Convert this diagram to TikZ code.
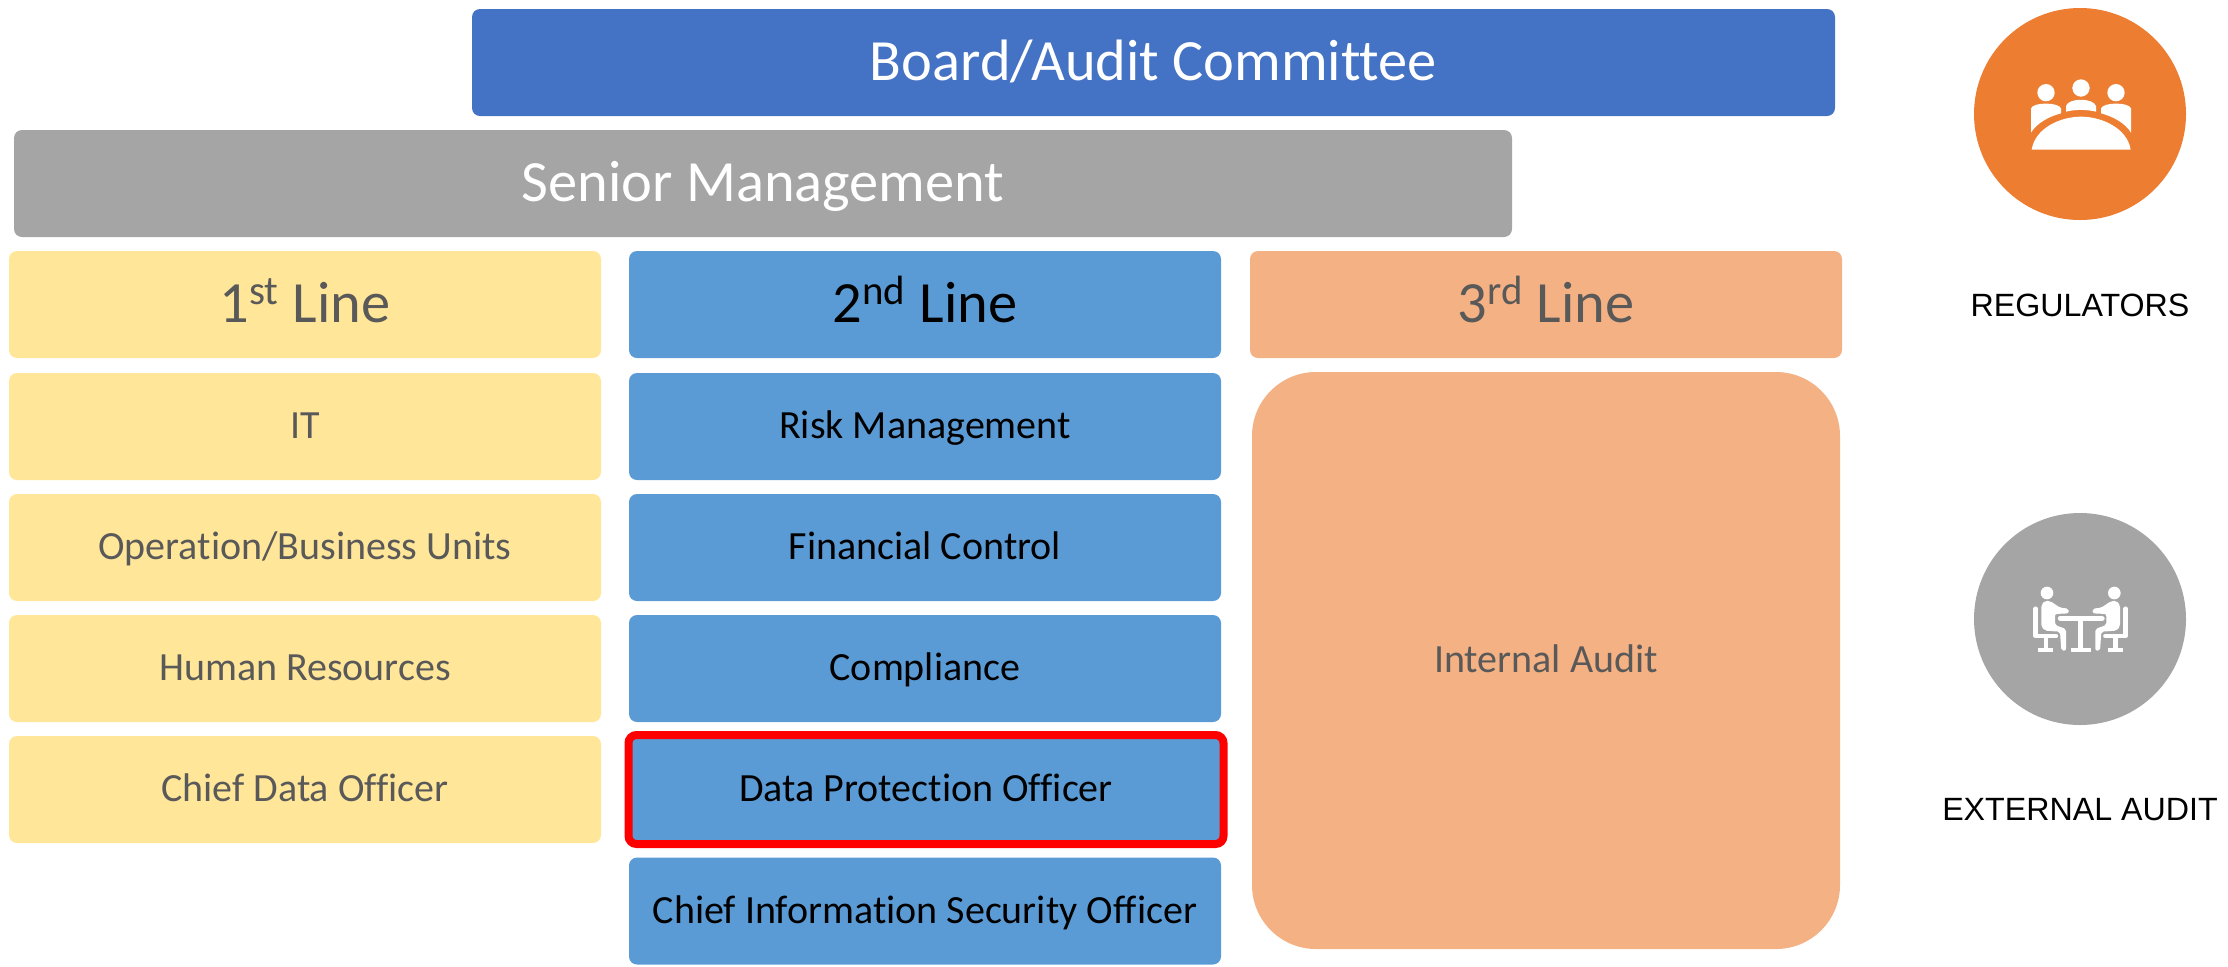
\documentclass[tikz,border=0pt]{standalone}
\usepackage{fontspec}
\setmainfont[Ligatures=NoCommon]{Carlito}
\newfontfamily\labelfont{Liberation Sans}

\definecolor{boardblue}{HTML}{4472C4}
\definecolor{seniorgray}{HTML}{A5A5A5}
\definecolor{firstyellow}{HTML}{FFE699}
\definecolor{secondblue}{HTML}{5B9BD5}
\definecolor{thirdpeach}{HTML}{F4B183}
\definecolor{regorange}{HTML}{ED7D31}
\definecolor{darktext}{HTML}{595959}

\tikzset{
  bar/.style={rounded corners=4pt, inner sep=0pt, text height=20pt, text depth=2pt,
    minimum height=53.5pt, font=\fontsize{29.2}{34}\selectfont},
  rowbox/.style={bar, minimum width=296pt, text height=14pt, text depth=2pt, font=\fontsize{20}{24}\selectfont},
  headbox/.style={bar, minimum width=296pt},
  badge/.style={circle, inner sep=0pt, minimum size=106pt},
  outside/.style={font=\labelfont\fontsize{16.1}{19}\selectfont, inner sep=0pt},
}

\begin{document}
\begin{tikzpicture}[x=0.5pt, y=-0.5pt]
\useasboundingbox (0,0) rectangle (2228,966);

\node[bar, fill=boardblue, text=white, minimum width=681.5pt] (board) at (1153.5,62.5) {Board/Audit Committee};
\node[bar, fill=seniorgray, text=white, minimum width=749pt] (senior) at (763,183.5) {Senior Management};

% first line
\node[headbox, fill=firstyellow, text=darktext] (first) at (305,304.5) {1\textsuperscript{st} Line};
\foreach \name/\y/\txt in {it/426.5/IT, units/547.5/{Operation/Business Units},
    hr/668.5/Human Resources, cdo/789.5/Chief Data Officer}
\node[rowbox, fill=firstyellow, text=darktext] (\name) at (305,\y) {\txt};

% second line
\node[headbox, fill=secondblue, text=black] (second) at (925,304.5) {2\textsuperscript{nd} Line};
\foreach \name/\y/\txt in {risk/426.5/Risk Management, finance/547.5/Financial Control,
    compliance/668.5/Compliance, ciso/911/Chief Information Security Officer}
\node[rowbox, fill=secondblue, text=black] (\name) at (925,\y) {\txt};
\node[rowbox, fill=secondblue, text=black, draw=red, line width=4pt, minimum width=297.5pt, minimum height=54.5pt] (dpo) at (926,789.5) {Data Protection Officer};

% third line
\node[headbox, fill=thirdpeach, text=darktext] (third) at (1546,304.5) {3\textsuperscript{rd} Line};
\node[rowbox, fill=thirdpeach, text=darktext, rounded corners=32pt, minimum width=294pt, minimum height=288.5pt] (internal) at (1546,660.5) {Internal Audit};

% right side
\node[badge, fill=regorange] (regulators) at (2080,114) {};
\node[badge, fill=seniorgray] (external) at (2080,619) {};
\node[outside] (reglabel) at (2080,305) {REGULATORS};
\node[outside] (extlabel) at (2080,810) {EXTERNAL AUDIT};

% table with three people
\begin{scope}[shift={(1920,0)}, x=1pt/6, y=-1pt/6, white]
\fill (378,278) circle (26);
\fill (483,264) circle (26);
\fill (588,278) circle (26);
\fill (335,449) .. controls (345,385) and (420,350) .. (483,350) .. controls (546,350) and (622,385) .. (632,449) -- cycle;
\fill (438,335) -- (438,318) .. controls (445,293) and (520,293) .. (528,318) -- (528,335) .. controls (500,328) and (466,328) .. (438,335) -- cycle;
\fill (333,398) -- (333,325) .. controls (340,306) and (415,306) .. (423,325) -- (423,340) .. controls (385,350) and (350,370) .. (333,398) -- cycle;
\fill (633,398) -- (633,325) .. controls (626,306) and (551,306) .. (543,325) -- (543,340) .. controls (581,350) and (616,370) .. (633,398) -- cycle;
\end{scope}

% two people at a desk
\begin{scope}[shift={(1920,490)}, x=1pt/6, y=-1pt/6, white, line cap=round, line join=round]
\draw[line width=2.6pt] (421,385) -- (546,385);
\draw[line width=2.6pt, line cap=butt] (482,385) -- (482,480);
\draw[line width=2pt, line cap=butt] (453,480) -- (512,480);
\foreach \s/\c in {1/0, -1/964} {
\begin{scope}[shift={(\c,0)}, xscale=\s]
\fill (381,309) circle (19);
\draw[line width=2.2pt] (347,356) -- (347,438) -- (408,438);
\draw[line width=2.2pt, line cap=butt] (378,438) -- (378,480);
\draw[line width=2pt, line cap=butt] (355,480) -- (400,480);
\fill[rounded corners=1pt] (364,345) -- (375,332) -- (392,334) -- (420,353) -- (446,356) -- (446,370) -- (405,372) -- (405,405) -- (438,417) -- (438,482) -- (424,482) -- (420,425) -- (375,422) -- (364,410) -- cycle;
\end{scope}
}
\end{scope}

\end{tikzpicture}
\end{document}
